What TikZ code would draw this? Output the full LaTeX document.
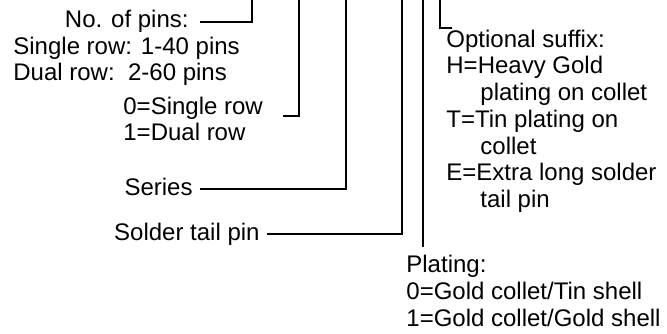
\documentclass[tikz,border=0pt]{standalone}
\usepackage{fontspec}
\setmainfont{Liberation Sans}
\usetikzlibrary{calc}

\begin{document}
\begin{tikzpicture}[
  x=0.5pt, y=-0.5pt,
  font=\fontsize{12}{13.35}\selectfont,
  desc/.style={inner sep=0pt, align=left},
  lead/.style={line width=1.25pt, draw=black}
]
\useasboundingbox (0,0) rectangle (667,333);
% top ends of the leads
\coordinate (tPins) at (252,0);
\coordinate (tRows) at (299,0);
\coordinate (tSeries) at (346,0);
\coordinate (tTail) at (402,0);
\coordinate (tPlating) at (423,0);
\coordinate (tSuffix) at (440,0);

\node[desc, anchor=base east] (pins) at (189,27) {No. of pins:};
\node[desc, anchor=north west] (range) at (13,36.5) {Single row: 1-40 pins\\Dual row:\ \ 2-60 pins};
\node[desc, anchor=north west] (rows) at (123,96.5) {0=Single row\\1=Dual row};
\node[desc, anchor=base east] (series) at (193,195) {Series};
\node[desc, anchor=base east] (tail) at (260,240) {Solder tail pin};
\node[desc, anchor=north west] (plating) at (406,255) {Plating:\\0=Gold collet/Tin shell\\1=Gold collet/Gold shell};
\node[desc, anchor=north west] (suffix) at (446,29.5) {Optional suffix:\\H=Heavy Gold\\\hspace*{17pt}plating on collet\\T=Tin plating on\\\hspace*{17pt}collet\\E=Extra long solder\\\hspace*{17pt}tail pin};

\draw[lead] ($(pins.base east)+(11,-5)$) -| (tPins);
\draw[lead] ($(rows.north east)+(20,19.5)$) -| (tRows);
\draw[lead] ($(series.base east)+(7,-6)$) -| (tSeries);
\draw[lead] ($(tail.base east)+(7,-6)$) -| (tTail);
\draw[lead] ($(plating.north west)+(17,-8.5)$) -- (tPlating);
\draw[lead] ($(suffix.north west)+(6,-1.5)$) -| (tSuffix);
\end{tikzpicture}
\end{document}
